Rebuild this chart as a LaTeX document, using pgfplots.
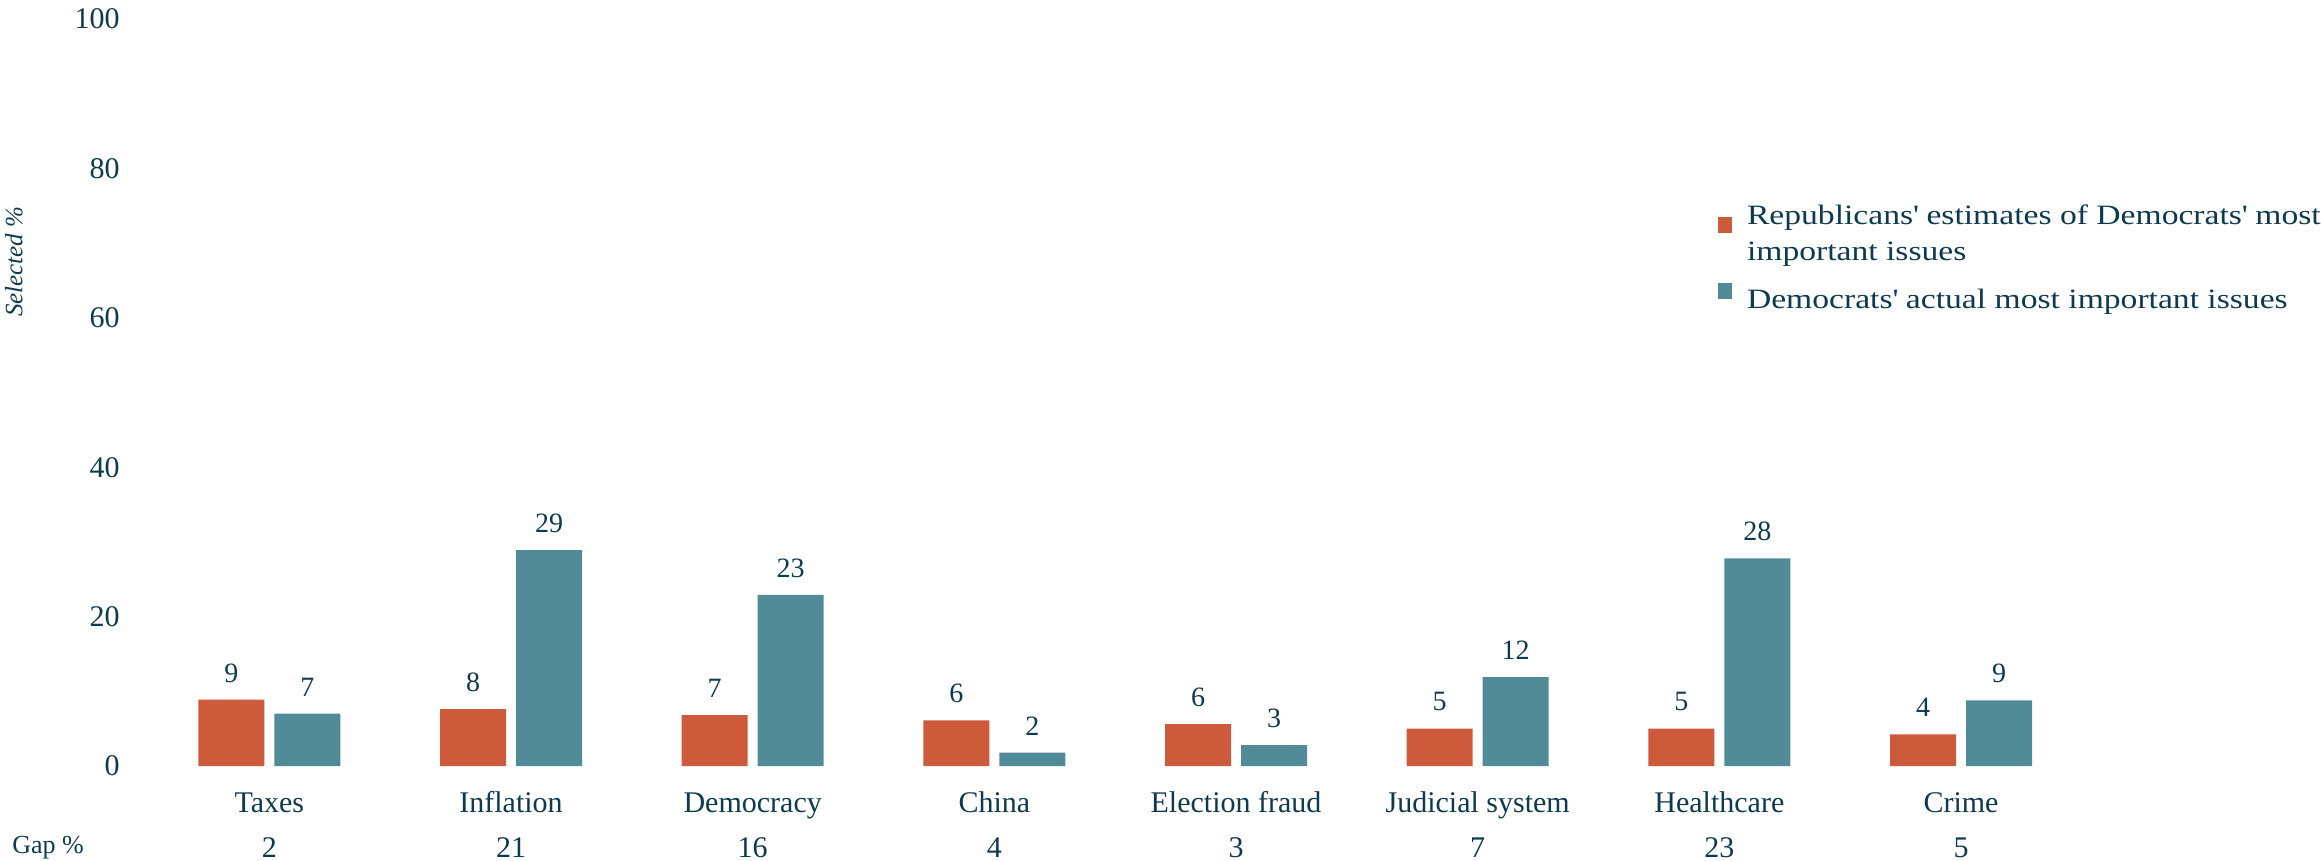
\documentclass[border=0pt]{standalone}
\usepackage{fontspec}
\setmainfont{Liberation Serif}
\newfontfamily\legfont{Liberation Serif}[FakeStretch=1.2]
\usepackage{pgfplots}
\pgfplotsset{compat=1.18}
\usepackage{pgfplotstable}
\definecolor{redc}{HTML}{CE5A3C}
\definecolor{tealc}{HTML}{528B98}
\definecolor{textc}{HTML}{0E3A4F}

\pgfplotstableread{
x y lab
0 8.87 9
1 7.6 8
2 6.8 7
3 6.1 6
4 5.6 6
5 5.0 5
6 5.0 5
7 4.25 4
}\repdata
\pgfplotstableread{
x y lab
0 7.0 7
1 28.9 29
2 22.9 23
3 1.8 2
4 2.8 3
5 11.9 12
6 27.8 28
7 8.8 9
}\demdata

\begin{document}
\begin{tikzpicture}
\begin{axis}[
  at={(0pt,0pt)}, anchor=south west,
  scale only axis, width=1100.5pt, height=373.5pt,
  xmin=-0.618, xmax=8.49, ymin=0, ymax=100,
  axis line style={draw=none}, major tick length=0pt,
  xtick={0,...,7},
  xticklabels={Taxes,Inflation,Democracy,China,Election fraud,Judicial system,Healthcare,Crime},
  ytick={0,20,...,100},
  /pgf/number format/assume math mode=true,
  ticklabel style={text=textc, font=\fontsize{15}{18}\selectfont, inner sep=0pt},
  xticklabel style={anchor=base, yshift=-23pt},
  extra x ticks={0,...,7},
  extra x tick labels={2,21,16,4,3,7,23,5},
  extra x tick style={xticklabel style={yshift=-22.5pt}},
  ylabel={Selected \%},
  ylabel style={at={(axis description cs:-0.0482,0.675)}, anchor=center, font=\itshape\fontsize{12.5}{14}\selectfont, text=textc},
  legend cell align=left,
  legend style={at={(0.726,0.757)}, anchor=north west, draw=none, fill=none, inner sep=0pt, outer sep=0pt,
    row sep=8pt, column sep=5.5pt, font=\legfont\fontsize{14}{18}\selectfont, text=textc,
    cells={align=left}},
  legend image code/.code={\fill[#1, draw=none] (0pt,0.5pt) rectangle (7pt,8.5pt);},
  clip=false,
]
\addplot[ybar, bar width=33pt, bar shift=-19pt, fill=redc, draw=none,
  nodes near coords, point meta=explicit symbolic,
  every node near coord/.append style={text=textc, font=\fontsize{14}{16}\selectfont, inner sep=0pt, xshift=-19pt, yshift=8.5pt}]
  table[x=x, y=y, meta=lab] {\repdata};
\addlegendentry{Republicans\textquotesingle\ estimates of Democrats\textquotesingle\ most\\important issues}
\addplot[ybar, bar width=33pt, bar shift=19pt, fill=tealc, draw=none,
  nodes near coords, point meta=explicit symbolic,
  every node near coord/.append style={text=textc, font=\fontsize{14}{16}\selectfont, inner sep=0pt, xshift=19pt, yshift=8.5pt}]
  table[x=x, y=y, meta=lab] {\demdata};
\addlegendentry{Democrats\textquotesingle\ actual most important issues}
\end{axis}
\node[anchor=base west, text=textc, font=\fontsize{13}{15}\selectfont, inner sep=0pt] at (-54pt,-43.5pt) {Gap \%};
\pgfresetboundingbox
\path (-60pt,-47.5pt) rectangle (1100.5pt,383pt);
\end{tikzpicture}
\end{document}
